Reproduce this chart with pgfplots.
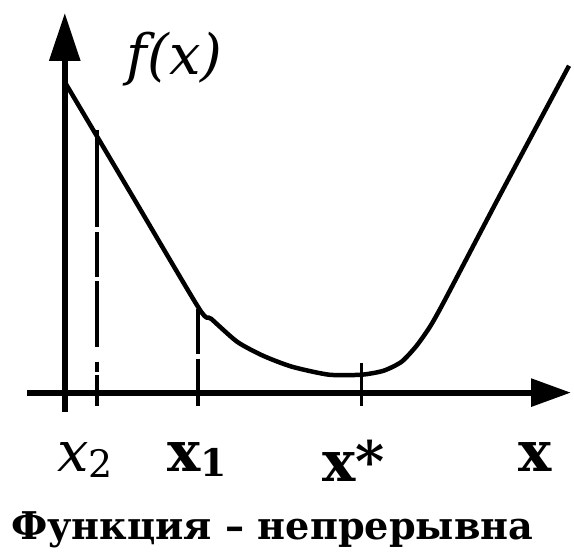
\documentclass[border=0pt]{standalone}
\usepackage{pgfplots}
\pgfplotsset{compat=1.18}
\usepackage{fontspec}
\setmainfont{DejaVu Serif}
\usetikzlibrary{arrows.meta}
\begin{document}
\begin{tikzpicture}
\begin{axis}[
  hide axis, scale only axis, clip=false,
  width=574pt, height=553pt,
  xmin=-65, xmax=509, ymin=-159, ymax=394,
]
\path (axis cs:-65,-159) rectangle (axis cs:509,394);
\addplot[black, line width=6pt, -{Triangle[width=30pt,length=48pt]}] coordinates {(0,-19) (0,381)};
\addplot[black, line width=6pt, -{Triangle[width=27pt,length=40pt]}] coordinates {(-38,0) (508,0)};
\addplot[black, line width=4pt, dash pattern=on 98pt off 5pt on 45pt off 4pt on 66pt off 15pt on 10pt off 3pt on 40pt] coordinates {(32,264) (32,-13)};
\addplot[black, line width=4pt, dash pattern=on 45pt off 5pt on 60pt] coordinates {(134,84) (134,-13)};
\addplot[black, line width=3.5pt] coordinates {(298,30) (298,-13)};
\addplot[black, line width=4.5pt, smooth, tension=0.4] coordinates {
 (1,310) (68,197) (135,84) (147,74) (173,51) (199,37) (228,26) (265,18)
 (298,18) (320,22) (338,31) (353,47) (367,67) (382,94) (435,195) (506,328)};
\node[anchor=base west, inner sep=0pt] at (axis cs:62,319) {\resizebox{96pt}{!}{\fontsize{50}{50}\selectfont\itshape f(x)}};
\node[anchor=base west, inner sep=0pt] at (axis cs:-8,-79) {\fontsize{56}{56}\selectfont\itshape x\raisebox{-6pt}{\fontsize{38}{38}\selectfont\upshape 2}};
\node[anchor=base west, inner sep=0pt] at (axis cs:103,-79) {\fontsize{56}{56}\selectfont\bfseries x\raisebox{-5pt}{\fontsize{38}{38}\selectfont 1}};
\node[anchor=base west, inner sep=0pt] at (axis cs:258,-89) {\fontsize{56}{56}\selectfont\bfseries x*};
\node[anchor=base west, inner sep=0pt] at (axis cs:455,-79) {\fontsize{56}{56}\selectfont\bfseries x};
\node[anchor=base west, inner sep=0pt] at (axis cs:-54,-147) {\resizebox{524pt}{!}{\fontsize{40}{40}\selectfont\bfseries Функция – непрерывна}};
\end{axis}
\end{tikzpicture}
\end{document}
